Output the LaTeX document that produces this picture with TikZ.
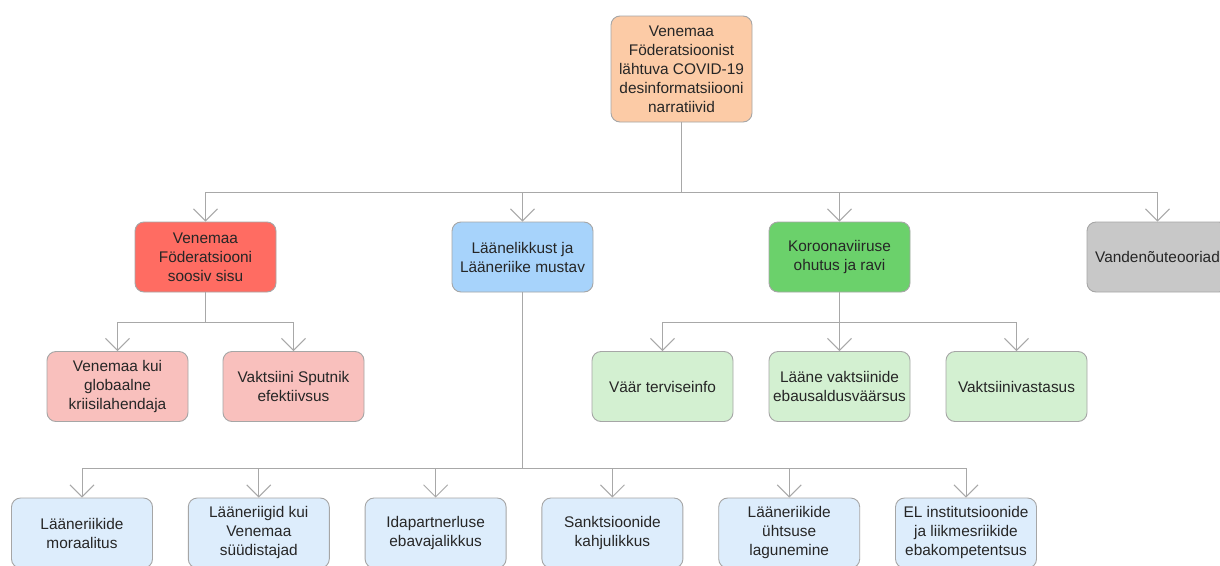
\documentclass[tikz,border=0pt]{standalone}
\usepackage{fontspec}
\setmainfont{Liberation Sans}
\usetikzlibrary{arrows.meta}
\definecolor{cpeach}{HTML}{FCCBA6}
\definecolor{cred}{HTML}{FF6C62}
\definecolor{cpink}{HTML}{F9C0BD}
\definecolor{cblue}{HTML}{A7D3FB}
\definecolor{clblue}{HTML}{DDEDFC}
\definecolor{cgreen}{HTML}{6BD16B}
\definecolor{clgreen}{HTML}{D3F0D1}
\definecolor{cgray}{HTML}{C8C8C8}
\definecolor{cborder}{HTML}{A6A6A6}
\definecolor{cline}{HTML}{A8A8A8}
\begin{document}
\begin{tikzpicture}[x=1pt,y=-1pt,
  box/.style={draw=cborder, line width=0.9pt, rounded corners=9pt,
    minimum width=141pt, minimum height=70pt, align=center, inner sep=2pt,
    font=\fontsize{15.4}{19}\selectfont, text=black!85},
  conn/.style={draw=cline, line width=1pt},
  arr/.style={conn, -{Straight Barb[length=12pt,width=24pt,line width=1pt]}}]
\useasboundingbox (0,0) rectangle (1220,565);
\fill[white] (0,0) rectangle (1220,565);

% top
\node[box, fill=cpeach, minimum height=106pt] (top) at (681.5,69)
  {Venemaa\\Föderatsioonist\\lähtuva COVID-19\\desinformatsiiooni\\narratiivid};

% level 2
\node[box, fill=cred]  (red)   at (205.5,257) {Venemaa\\Föderatsiooni\\soosiv sisu};
\node[box, fill=cblue] (blue)  at (522.5,257) {Läänelikkust ja\\Lääneriike mustav};
\node[box, fill=cgreen](green) at (839.5,257) {Koroonaviiruse\\ohutus ja ravi};
\node[box, fill=cgray] (gray)  at (1157.5,257) {Vandenõuteooriad};

% red children
\node[box, fill=cpink] (r1) at (117.5,386.5) {Venemaa kui\\globaalne\\kriisilahendaja};
\node[box, fill=cpink] (r2) at (293.5,386.5) {Vaktsiini Sputnik\\efektiivsus};

% green children
\node[box, fill=clgreen] (g1) at (662.5,386.5) {Väär terviseinfo};
\node[box, fill=clgreen] (g2) at (839.5,386.5) {Lääne vaktsiinide\\ebausaldusväärsus};
\node[box, fill=clgreen] (g3) at (1016.5,386.5) {Vaktsiinivastasus};

% blue children
\node[box, fill=clblue] (b1) at (82,533) {Lääneriikide\\moraalitus};
\node[box, fill=clblue] (b2) at (258.8,533) {Lääneriigid kui\\Venemaa\\süüdistajad};
\node[box, fill=clblue] (b3) at (435.6,533) {Idapartnerluse\\ebavajalikkus};
\node[box, fill=clblue] (b4) at (612.4,533) {Sanktsioonide\\kahjulikkus};
\node[box, fill=clblue] (b5) at (789.2,533) {Lääneriikide\\ühtsuse\\lagunemine};
\node[box, fill=clblue] (b6) at (966,533) {EL institutsioonide\\ja liikmesriikide\\ebakompetentsus};

% junctions
\coordinate (j0) at (681.5,192);
\coordinate (jr) at (205.5,322);
\coordinate (jg) at (839.5,322);
\coordinate (jb) at (522.5,468);

% top -> level 2
\draw[conn] (top.south) -- (j0);
\draw[conn] (red.north |- j0) -- (gray.north |- j0);
\foreach \n in {red,blue,green,gray} \draw[arr] (\n.north |- j0) -- (\n.north);

% red
\draw[conn] (red.south) -- (jr);
\draw[conn] (r1.north |- jr) -- (r2.north |- jr);
\foreach \n in {r1,r2} \draw[arr] (\n.north |- jr) -- (\n.north);

% green
\draw[conn] (green.south) -- (jg);
\draw[conn] (g1.north |- jg) -- (g3.north |- jg);
\foreach \n in {g1,g2,g3} \draw[arr] (\n.north |- jg) -- (\n.north);

% blue
\draw[conn] (blue.south) -- (jb);
\draw[conn] (b1.north |- jb) -- (b6.north |- jb);
\foreach \n in {b1,b2,b3,b4,b5,b6} \draw[arr] (\n.north |- jb) -- (\n.north);
\end{tikzpicture}
\end{document}
